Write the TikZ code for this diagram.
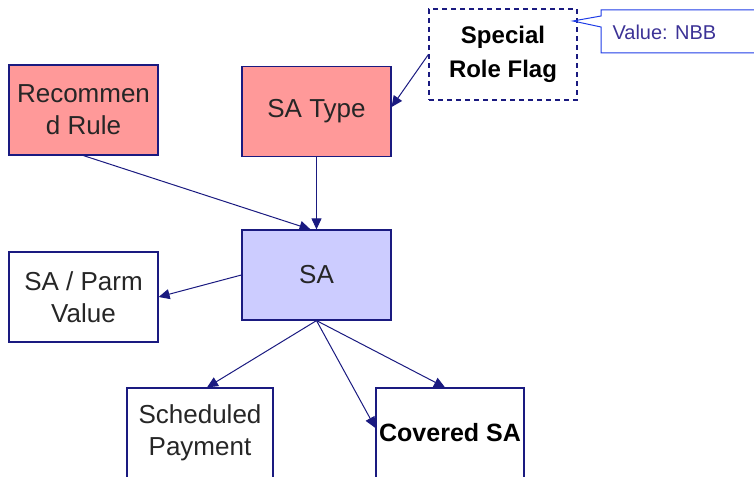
\documentclass[tikz,border=0pt]{standalone}
\usepackage{fontspec}
\setmainfont{Liberation Sans}
\usetikzlibrary{arrows.meta}

\definecolor{edgenavy}{RGB}{26,26,128}
\definecolor{rulepink}{RGB}{255,153,153}
\definecolor{salilac}{RGB}{204,204,255}
\definecolor{noteblue}{RGB}{30,60,230}
\definecolor{notetext}{RGB}{60,50,150}

\begin{document}
\begin{tikzpicture}[x=1pt, y=-1pt,
    entity/.style={draw=edgenavy, line width=1.2pt, minimum width=149pt,
                   minimum height=90pt, align=center, inner sep=2pt,
                   font=\fontsize{26}{32}\selectfont, text=black!85},
    link/.style={draw=edgenavy, line width=1pt,
                 -{Triangle[length=11pt,width=10pt]}}]
\useasboundingbox (0,0) rectangle (754,476);

\node[entity, fill=rulepink] (rule)    at (83.5,110)  {Recommen\\d Rule};
\node[entity, fill=rulepink] (satype)  at (316.5,111.5) {SA Type};
\node[entity, fill=salilac]  (sa)      at (316.5,275) {SA};
\node[entity]                (parm)    at (83.5,297)  {SA / Parm\\Value};
\node[entity, minimum width=146pt] (sched) at (200,433) {Scheduled\\Payment};
\node[entity, minimum width=148pt, font=\fontsize{25}{30}\selectfont\bfseries, text=black]
                             (covered) at (450,433)   {Covered SA};
\node[entity, minimum width=148pt, minimum height=91pt, dash pattern=on 5pt off 4pt,
      font=\fontsize{24}{34}\selectfont\bfseries, text=black]
                             (flag)    at (503,54.5)  {Special\\Role Flag};

% note on the flag
\node[anchor=west, text=notetext, font=\fontsize{20}{24}\selectfont] (nbb) at (609,32) {Value: NBB};
\draw[noteblue, line width=1pt]
  (601,16) -- (601,10) -- (760,10) -- (760,53) -- (601,53) -- (601,27) -- (573,21) -- cycle;

\draw[link] (rule.south) -- ([xshift=-6pt]sa.north);
\draw[link] (satype.south) -- (sa.north);
\draw[link] (sa.west) -- (parm.east);
\draw[link] (sa.south) -- ([xshift=7pt]sched.north);
\draw[link] (sa.south) -- ([yshift=5pt]covered.west);
\draw[link] (sa.south) -- ([xshift=-5pt]covered.north);
\draw[link] (flag.west) -- ([yshift=4.5pt]satype.east);
\end{tikzpicture}
\end{document}
